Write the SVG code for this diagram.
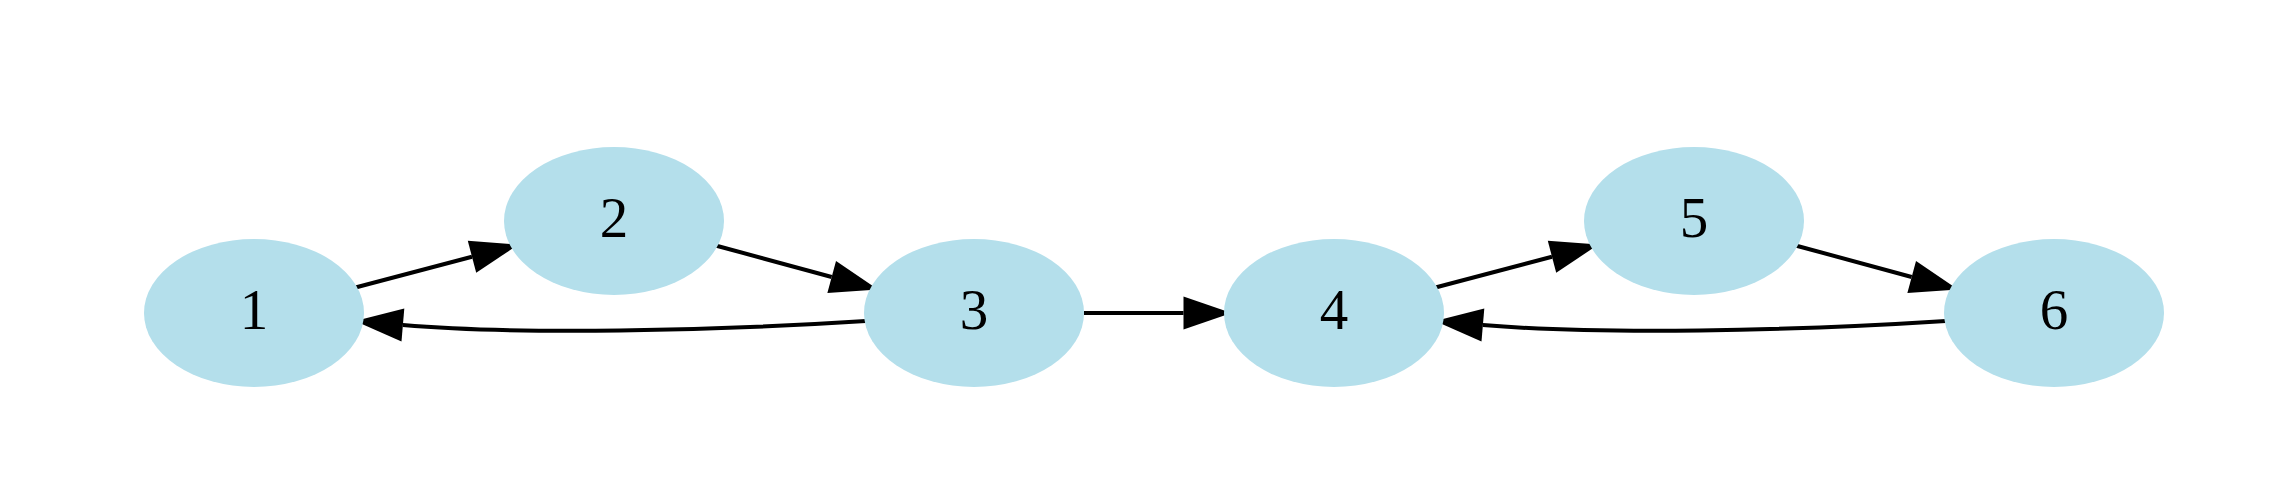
<svg xmlns="http://www.w3.org/2000/svg" width="2276" height="502" viewBox="0 0 2276 502">
<style>
.node ellipse{fill:#b4dfeb;stroke:none}
.node text{font-family:"Liberation Serif","Times New Roman",serif;font-size:57px;fill:#000;text-anchor:middle}
.edge{fill:none;stroke:#000;stroke-width:4}
</style>
<defs>
<marker id="arr" markerUnits="userSpaceOnUse" markerWidth="50" markerHeight="34" refX="0" refY="16.5" orient="auto" overflow="visible">
<path d="M0,0 L48,16.5 L0,33 Z" fill="#000"/>
</marker>
</defs>
<rect width="2276" height="502" fill="#fff"/>
<g id="edges">
<path class="edge" d="M356.4,287.3 L472,256.8" marker-end="url(#arr)"/>
<path class="edge" d="M716.5,245.7 L831.7,277" marker-end="url(#arr)"/>
<path class="edge" d="M865.8,321 C710,331 520,335 402.9,325" marker-end="url(#arr)"/>
<path class="edge" d="M1084,313 L1183.5,313" marker-end="url(#arr)"/>
<path class="edge" d="M1436.4,287.3 L1552,256.8" marker-end="url(#arr)"/>
<path class="edge" d="M1796.5,245.7 L1911.7,277" marker-end="url(#arr)"/>
<path class="edge" d="M1945.8,321 C1790,331 1600,335 1482.9,325" marker-end="url(#arr)"/>
</g>
<g id="node1" class="node"><ellipse cx="254" cy="313" rx="110" ry="74"/><text x="254" y="329">1</text></g>
<g id="node2" class="node"><ellipse cx="614" cy="221" rx="110" ry="74"/><text x="614" y="237">2</text></g>
<g id="node3" class="node"><ellipse cx="974" cy="313" rx="110" ry="74"/><text x="974" y="329">3</text></g>
<g id="node4" class="node"><ellipse cx="1334" cy="313" rx="110" ry="74"/><text x="1334" y="329">4</text></g>
<g id="node5" class="node"><ellipse cx="1694" cy="221" rx="110" ry="74"/><text x="1694" y="237">5</text></g>
<g id="node6" class="node"><ellipse cx="2054" cy="313" rx="110" ry="74"/><text x="2054" y="329">6</text></g>
</svg>
